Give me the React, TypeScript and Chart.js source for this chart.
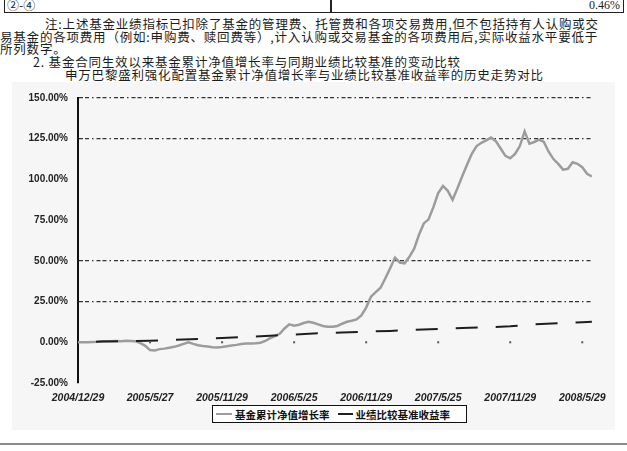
import { useEffect, useRef } from "react"
import { Chart, registerables } from "chart.js"

Chart.register(...registerables)

// x 轴刻度标签（每 15 个数据点一个）
const xTickLabels = [
  "2004/12/29",
  "2005/5/27",
  "2005/11/29",
  "2006/5/25",
  "2006/11/29",
  "2007/5/25",
  "2007/11/29",
  "2008/5/29",
]
const pointsPerLabel = 15

// y 轴刻度 (%)
const yTicks = [-25, 0, 25, 50, 75, 100, 125, 150]
// 扫描件里看得到虚线的网格
const visibleGrid = [25, 50, 125, 150]

// 基金累计净值增长率 (%)
const fundValues = [
  0, 0, 0, 0.1, 0.3, 0.6, 0.7, 0.6, 0.8, 0.7,
  0.9, 0.8, 0.6, -0.5, -2.2, -4.8, -5.0, -4.2, -3.9, -3.3,
  -2.8, -2.0, -1.0, 0.0, -1.0, -1.8, -2.3, -2.6, -3.1, -3.2,
  -2.9, -2.4, -2.0, -1.6, -1.0, -0.8, -0.8, -0.6, -0.3, 0.8,
  2.5, 3.8, 5.2, 8.5, 11.0, 10.2, 10.8, 11.8, 12.6, 12.0,
  11.0, 10.0, 9.6, 9.6, 10.0, 11.4, 12.6, 13.2, 14.0, 16.5,
  21.3, 28.0, 30.8, 33.5, 39.3, 45.5, 52.0, 49.0, 48.5, 52.5,
  57.5, 66.0, 73.0, 75.5, 83.0, 91.6, 96.0, 93.0, 87.5, 94.5,
  102.0, 109.0, 115.7, 120.5, 122.5, 124.0, 125.7, 123.5, 119.0, 114.5,
  113.0, 115.7, 120.5, 129.5, 122.0, 123.0, 124.5, 123.0, 117.0, 112.5,
  109.5, 106.0, 106.5, 110.5, 109.6, 107.5, 103.5, 101.8,
]

// 业绩比较基准收益率 (%)，按数据点序号取样
const benchmarkIndex = [0, 5, 10, 15, 20, 25, 30, 35, 40, 45, 50, 55, 60, 65, 70, 75, 80, 85, 90, 95, 100, 105, 107]
const benchmarkValues = [0, 0.5, 0.7, 1.0, 1.5, 2.0, 2.6, 3.3, 4.0, 4.8, 5.5, 6.0, 6.5, 7.0, 7.6, 8.2, 8.7, 9.2, 9.8, 11.0, 11.7, 12.3, 12.6]

const legendLabels = ["基金累计净值增长率", "业绩比较基准收益率"]
const fundColor = "#9c9c9c"
const benchColor = "#1e1e1e"

// x 轴在 0% 处的小刻度点
const zeroTicks = {
  id: "zeroTicks",
  afterDatasetsDraw(chart: any) {
    const { ctx, scales } = chart
    const y0 = scales.y.getPixelForValue(0)
    ctx.save()
    ctx.fillStyle = "#555"
    scales.x.ticks.forEach((t: any, k: number) => {
      if (k === 0) return
      const px = scales.x.getPixelForValue(t.value)
      ctx.fillRect(px - 1, y0 - 1, 2, 2)
    })
    ctx.restore()
  },
}

function TrendChart() {
  const chartRef = useRef<HTMLCanvasElement>(null)
  const chartInstance = useRef<Chart | null>(null)

  useEffect(() => {
    if (!chartRef.current) return
    if (chartInstance.current) chartInstance.current.destroy()

    const ctx = chartRef.current.getContext("2d")
    if (!ctx) return

    chartInstance.current = new Chart(ctx, {
      type: "line",
      data: {
        datasets: [
          {
            label: legendLabels[0],
            data: fundValues.map((v, i) => ({ x: i, y: v })),
            borderColor: fundColor,
            borderWidth: 2.5,
            pointRadius: 0,
            tension: 0,
            order: 1,
          },
          {
            label: legendLabels[1],
            data: benchmarkValues.map((v, k) => ({ x: benchmarkIndex[k], y: v })),
            borderColor: benchColor,
            borderWidth: 2,
            borderDash: [22, 18],
            borderDashOffset: 22,
            pointRadius: 0,
            tension: 0,
            order: 0,
          },
        ],
      },
      options: {
        animation: false,
        responsive: true,
        maintainAspectRatio: false,
        layout: { padding: { top: 11, right: 20, left: 0, bottom: 0 } },
        plugins: {
          legend: { display: false },
          title: { display: false },
          tooltip: { enabled: false },
        },
        scales: {
          x: {
            type: "linear",
            min: 0,
            max: fundValues.length - 1,
            grid: { display: false, drawTicks: false },
            border: { display: false },
            afterBuildTicks: (axis: any) => {
              axis.ticks = xTickLabels.map((_, k) => ({ value: k * pointsPerLabel }))
            },
            afterFit: (axis: any) => {
              axis.height = 47
            },
            ticks: {
              autoSkip: false,
              maxRotation: 0,
              padding: 9,
              color: "#222",
              font: { family: "'Liberation Sans'", size: 10.5, weight: "bold", style: "italic" },
              callback: (value: any) => xTickLabels[Math.round(Number(value) / pointsPerLabel)],
            },
          },
          y: {
            min: yTicks[0],
            max: yTicks[yTicks.length - 1],
            afterBuildTicks: (axis: any) => {
              axis.ticks = yTicks.map((v) => ({ value: v }))
            },
            afterFit: (axis: any) => {
              axis.width = 66
            },
            grid: {
              drawTicks: false,
              lineWidth: 1.3,
              color: (c: any) => (visibleGrid.includes(c.tick?.value) ? "#333" : "transparent"),
            },
            border: { display: true, color: "#111", width: 2, dash: [4, 2, 4, 3, 1.5, 3] },
            ticks: {
              padding: 10,
              color: "#222",
              font: { family: "'Liberation Sans'", size: 10, weight: "bold" },
              callback: (value: any) => Number(value).toFixed(2) + "%",
            },
          },
        },
      },
      plugins: [zeroTicks],
    })

    return () => {
      if (chartInstance.current) {
        chartInstance.current.destroy()
        chartInstance.current = null
      }
    }
  }, [])

  return <canvas ref={chartRef} />
}

const lineStyle = {
  position: "absolute" as const,
  fontSize: 12.5,
  lineHeight: "13px",
  whiteSpace: "nowrap" as const,
  letterSpacing: "0.8px",
}

export default function App() {
  return (
    <div
      style={{
        position: "fixed",
        left: 0,
        top: 0,
        width: 627,
        height: 451,
        background: "#fff",
        overflow: "hidden",
        fontFamily: "'Noto Sans CJK SC', sans-serif",
        color: "#1c1c1c",
      }}
    >
      {/* 表格最后一行 */}
      <div
        style={{
          position: "absolute",
          left: 4,
          top: -2,
          width: 618,
          height: 13,
          border: "1.5px solid #222",
        }}
      />
      <div style={{ position: "absolute", left: 330, top: 0, width: 1.5, height: 13, background: "#222" }} />
      <div style={{ position: "absolute", left: 7, top: -2, fontSize: 12, lineHeight: "14px" }}>②-④</div>
      <div style={{ position: "absolute", right: 7, top: -2, fontSize: 12, lineHeight: "14px", fontFamily: "'Liberation Serif'" }}>
        0.46%
      </div>

      <div style={{ ...lineStyle, left: 45, top: 16.5 }}>
        注:上述基金业绩指标已扣除了基金的管理费、托管费和各项交易费用,但不包括持有人认购或交
      </div>
      <div style={{ ...lineStyle, left: 0, top: 30 }}>
        易基金的各项费用（例如:申购费、赎回费等）,计入认购或交易基金的各项费用后,实际收益水平要低于
      </div>
      <div style={{ ...lineStyle, left: 0, top: 42 }}>所列数字。</div>
      <div style={{ ...lineStyle, left: 33, top: 54.5 }}>2. 基金合同生效以来基金累计净值增长率与同期业绩比较基准的变动比较</div>
      <div style={{ ...lineStyle, left: 65, top: 67.5 }}>
        申万巴黎盛利强化配置基金累计净值增长率与业绩比较基准收益率的历史走势对比
      </div>

      {/* 图表区域 */}
      <div style={{ position: "absolute", left: 12, top: 82, width: 603, height: 348, background: "#f6f6f6" }}>
        <TrendChart />
      </div>

      {/* 图例 */}
      <div
        style={{
          position: "absolute",
          left: 212,
          top: 405,
          width: 253,
          height: 16,
          border: "1.5px solid #111",
          background: "#fff",
          display: "flex",
          alignItems: "center",
          fontSize: 10.5,
          fontWeight: "bold",
          whiteSpace: "nowrap",
          color: "#111",
        }}
      >
        <span style={{ display: "inline-block", width: 16, height: 2, background: fundColor, marginLeft: 3, marginRight: 3 }} />
        <span>{legendLabels[0]}</span>
        <span style={{ display: "inline-block", width: 15, height: 2, background: benchColor, marginLeft: 8, marginRight: 3 }} />
        <span>{legendLabels[1]}</span>
      </div>

      <div style={{ position: "absolute", left: 0, top: 443, width: 627, height: 2, background: "#8a8a8a" }} />
    </div>
  )
}
